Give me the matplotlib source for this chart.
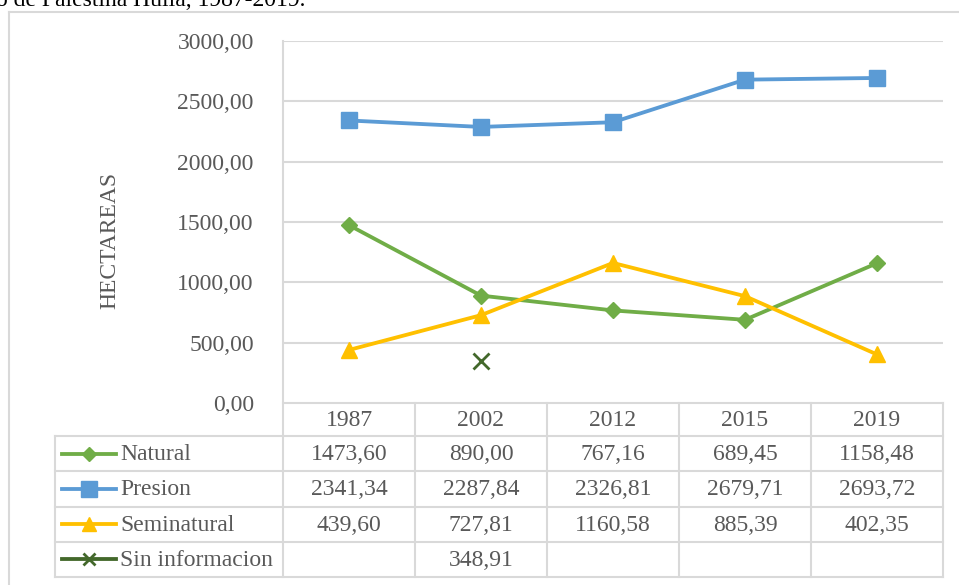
import matplotlib.pyplot as plt
from matplotlib.lines import Line2D

plt.rcParams['font.family'] = ['Liberation Serif', 'DejaVu Serif']

years = ['1987', '2002', '2012', '2015', '2019']
natural = [1473.60, 890.00, 767.16, 689.45, 1158.48]
presion = [2341.34, 2287.84, 2326.81, 2679.71, 2693.72]
seminatural = [439.60, 727.81, 1160.58, 885.39, 402.35]
sin_info = [None, 348.91, None, None, None]
yticks = [0, 500, 1000, 1500, 2000, 2500, 3000]

series = [
    ('Natural', natural, '#70AD47', 'D', 8),
    ('Presion', presion, '#5B9BD5', 's', 12),
    ('Seminatural', seminatural, '#FFC000', '^', 12),
    ('Sin informacion', sin_info, '#43682B', 'x', 11),
]

txt = '#595959'
grid = '#D9D9D9'
fs = 17
W, H = 959, 585
fig = plt.figure(figsize=(W / 100, H / 100), dpi=100)

# overlay in pixel coords for frame and data table
ov = fig.add_axes([0, 0, 1, 1])
ov.set_xlim(0, W)
ov.set_ylim(H, 0)
ov.axis('off')

ov.plot([9, W + 5], [12, 12], color=grid, lw=1.5)
ov.plot([9, 9], [12, H + 5], color=grid, lw=1.5)
ov.text(-4, 6, 'o de Palestina Huila, 1987-2019.', fontsize=17, color='black',
        ha='left', va='baseline')

x0, x1 = 283, 943
colw = (x1 - x0) / len(years)
top, hdr = 403, 436
rowh = (577 - hdr) / len(series)
left = 55

# table grid
ov.plot([x0, x0], [41, 577], color=grid, lw=1.5)
ov.plot([x0, x1], [top, top], color=grid, lw=1.5)
ov.plot([x1, x1], [top, 577], color=grid, lw=1.5)
for i in range(1, len(years)):
    xv = x0 + i * colw
    ov.plot([xv, xv], [top, 577], color=grid, lw=1.5)
for j in range(len(series) + 1):
    yv = hdr + j * rowh
    ov.plot([left, x1], [yv, yv], color=grid, lw=1.5)
ov.plot([left, left], [hdr, 577], color=grid, lw=1.5)

for i, yr in enumerate(years):
    ov.text(x0 + (i + 0.5) * colw, (top + hdr) / 2 + 1, yr, fontsize=fs,
            color=txt, ha='center', va='center')

for j, (name, vals, col, mk, ms) in enumerate(series):
    yc = hdr + (j + 0.5) * rowh
    kms = ms * 0.85 if mk != 's' else ms
    ov.add_line(Line2D([62, 116], [yc, yc], color=col, lw=2.75))
    ov.add_line(Line2D([89], [yc], color=col, marker=mk, markersize=kms,
                       markeredgewidth=2 if mk == 'x' else 1))
    ov.text(120, yc + 1, name, fontsize=fs, color=txt, ha='left', va='center')
    for i, v in enumerate(vals):
        if v is None:
            continue
        ov.text(x0 + (i + 0.5) * colw, yc + 1, f'{v:.2f}'.replace('.', ','),
                fontsize=fs, color=txt, ha='center', va='center')

# main plot
ax = fig.add_axes([x0 / W, 1 - top / H, (x1 - x0) / W, (top - 41) / H])
ax.patch.set_alpha(0)
xs = list(range(len(years)))
for name, vals, col, mk, ms in series:
    pts = [(x, v) for x, v in zip(xs, vals) if v is not None]
    px = [p[0] for p in pts]
    py = [p[1] for p in pts]
    ax.plot(px, py, color=col, lw=2.75, marker=mk, markersize=ms,
            markeredgewidth=2 if mk == 'x' else 1, zorder=3)

ax.set_xlim(-0.5, len(years) - 0.5)
ax.set_ylim(0, 3000)
ax.set_yticks(yticks)
ax.set_yticklabels([f'{t:.2f}'.replace('.', ',') for t in yticks],
                   fontsize=fs, color=txt)
ax.set_xticks([])
ax.tick_params(axis='y', length=0, pad=21)
for s in ax.spines.values():
    s.set_visible(False)
for t in yticks[1:]:
    ax.axhline(t, color=grid, lw=1.5, zorder=1)
ax.set_ylabel('HECTAREAS', fontsize=fs, color=txt, labelpad=0)
ax.yaxis.set_label_coords((120 - x0) / (x1 - x0), 0.45)

fig.savefig('out.png', dpi=100)
